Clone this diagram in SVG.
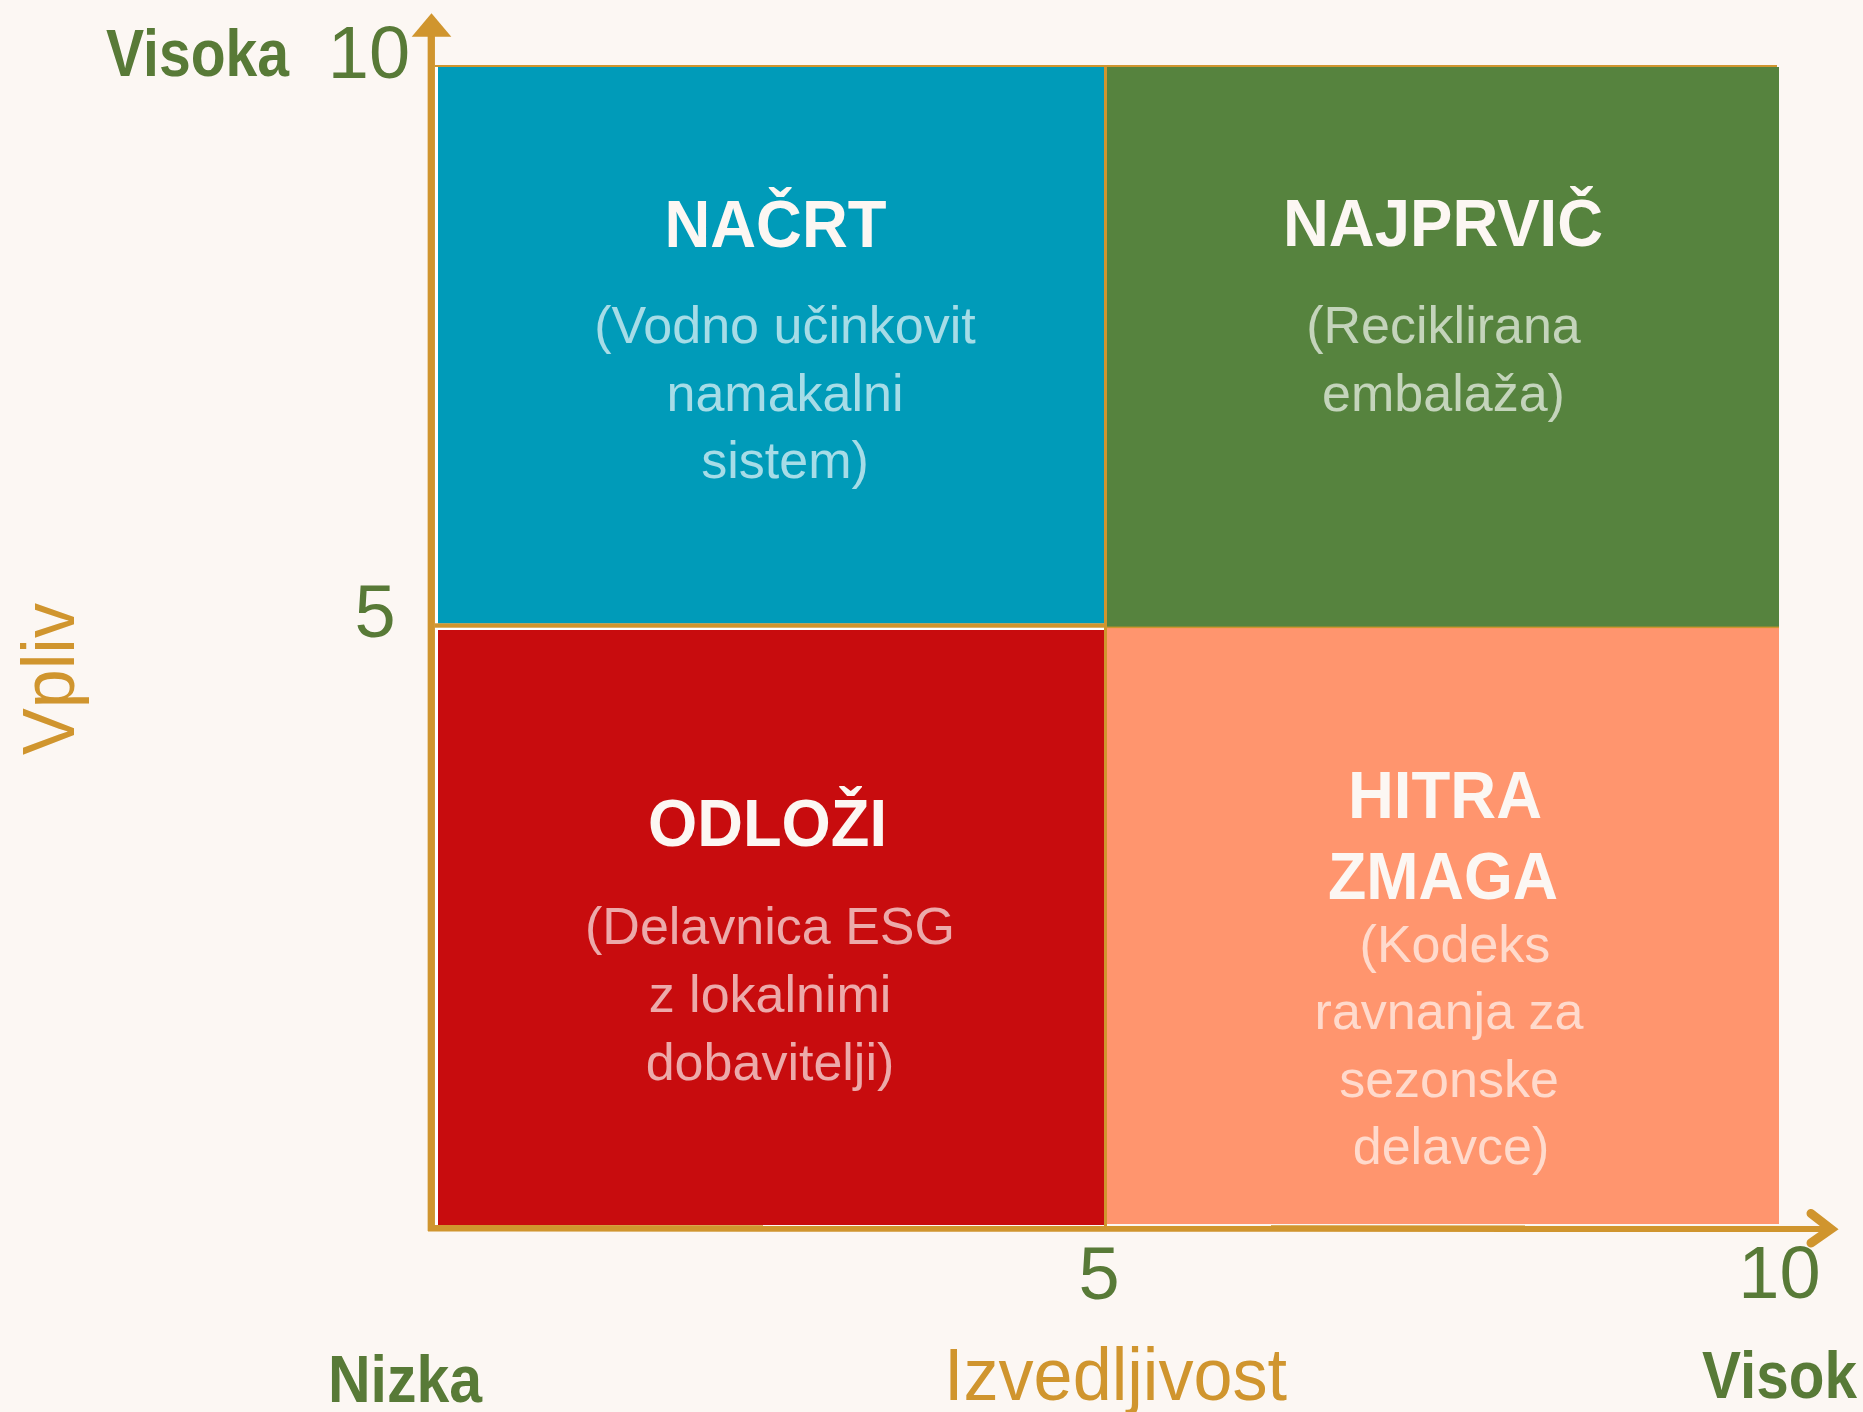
<svg xmlns="http://www.w3.org/2000/svg" width="1863" height="1412" viewBox="0 0 1863 1412">
<style>
  text { font-family: "Liberation Sans", Arial, sans-serif; }
  .title { font-size: 66px; font-weight: bold; fill: #FCF7F3; text-anchor: middle; }
  .sub { font-size: 52px; fill: #FFFFFF; fill-opacity: 0.65; text-anchor: middle; }
  .num { font-size: 74px; fill: #587A37; text-anchor: middle; }
  .lvl { font-size: 66px; font-weight: bold; fill: #587A37; }
  .axl { font-size: 75px; fill: #D0952E; }
  .grid { fill: #D0952E; }
</style>
<rect x="0" y="0" width="1863" height="1412" fill="#FCF7F3"/>

<g id="quadrant-nacrt">
  <rect x="438" y="67" width="666" height="556.5" fill="#009BB9"/>
  <text class="title" x="775.5" y="246.5" textLength="222" lengthAdjust="spacingAndGlyphs">NAČRT</text>
  <text class="sub" x="785" y="343">(Vodno učinkovit</text>
  <text class="sub" x="785" y="410.5">namakalni</text>
  <text class="sub" x="785" y="478">sistem)</text>
</g>

<g id="quadrant-najprvic">
  <rect x="1107" y="67" width="672" height="560" fill="#56833E"/>
  <text class="title" x="1443" y="246" textLength="320" lengthAdjust="spacingAndGlyphs">NAJPRVIČ</text>
  <text class="sub" x="1443.5" y="343">(Reciklirana</text>
  <text class="sub" x="1443.5" y="410.5">embalaža)</text>
</g>

<g id="quadrant-odlozi">
  <rect x="438" y="630" width="666" height="595" fill="#C80C0E"/>
  <text class="title" x="767.5" y="846" textLength="239" lengthAdjust="spacingAndGlyphs">ODLOŽI</text>
  <text class="sub" x="770" y="943.5">(Delavnica ESG</text>
  <text class="sub" x="770" y="1012">z lokalnimi</text>
  <text class="sub" x="770" y="1080">dobavitelji)</text>
</g>

<g id="quadrant-hitra-zmaga">
  <rect x="1107" y="628" width="672" height="596" fill="#FF956E"/>
  <text class="title" x="1445" y="818" textLength="194" lengthAdjust="spacingAndGlyphs">HITRA</text>
  <text class="title" x="1443" y="899" textLength="230" lengthAdjust="spacingAndGlyphs">ZMAGA</text>
  <text class="sub" x="1455" y="961.5">(Kodeks</text>
  <text class="sub" x="1449" y="1029">ravnanja za</text>
  <text class="sub" x="1449" y="1096.5">sezonske</text>
  <text class="sub" x="1451" y="1164">delavce)</text>
</g>

<g id="grid-lines">
  <rect x="435" y="67" width="3" height="1158" fill="#FFFFFF"/>
  <rect x="438" y="627.7" width="666" height="2.3" fill="#FFFFFF"/>
  <rect class="grid" x="435" y="65" width="1342" height="2"/>
  <rect class="grid" x="435" y="623.3" width="669" height="4.4"/>
  <rect class="grid" x="1104" y="65" width="3" height="1162"/>
  <rect class="grid" x="1107" y="626.6" width="672" height="1.5"/>
</g>

<g id="connectors">
  <line x1="431.3" y1="1231" x2="431.3" y2="34" stroke="#D0952E" stroke-width="7.3"/>
  <polygon points="431.5,13.3 411.7,36.7 451.3,36.7" fill="#D0952E"/>
  <line x1="428" y1="1228.3" x2="1828" y2="1228.8" stroke="#D0952E" stroke-width="6.5"/>
  <polyline points="1811,1213.5 1831,1229 1811,1243" fill="none" stroke="#D0952E" stroke-width="9" stroke-linecap="round" stroke-linejoin="miter"/>
</g>

<g id="axis-labels">
  <text class="num" x="369" y="78">10</text>
  <text class="num" x="375" y="637">5</text>
  <text class="num" x="1099" y="1299">5</text>
  <text class="num" x="1779.5" y="1298">10</text>
  <text class="lvl" x="106" y="76" textLength="183" lengthAdjust="spacingAndGlyphs">Visoka</text>
  <text class="lvl" x="328" y="1402" textLength="154" lengthAdjust="spacingAndGlyphs">Nizka</text>
  <text class="lvl" x="1702" y="1398" textLength="155" lengthAdjust="spacingAndGlyphs">Visok</text>
  <text class="axl" x="944" y="1400" textLength="343" lengthAdjust="spacingAndGlyphs">Izvedljivost</text>
  <text class="axl" transform="translate(74,755) rotate(-90)" x="0" y="0" textLength="152" lengthAdjust="spacingAndGlyphs">Vpliv</text>
</g>
</svg>
